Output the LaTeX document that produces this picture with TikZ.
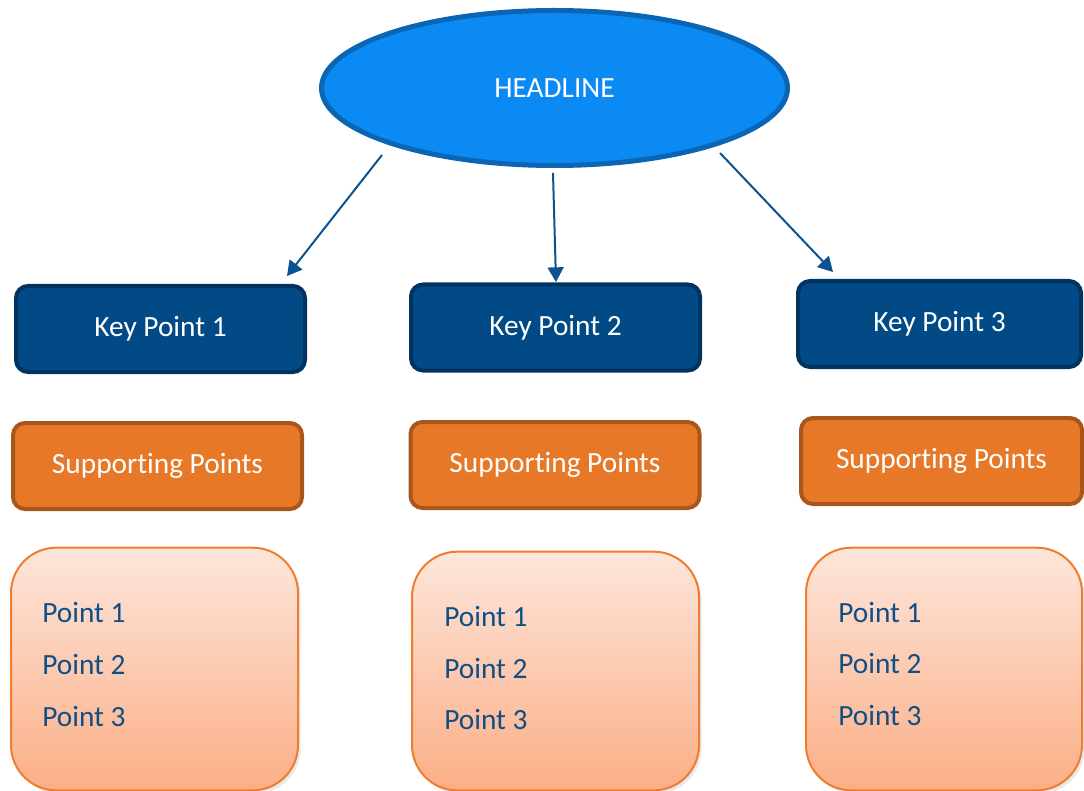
\documentclass[tikz,border=0pt]{standalone}
\usepackage{fontspec}
\setmainfont{Carlito}[Ligatures={NoCommon,NoContextual},Contextuals=NoAlternate]
\usetikzlibrary{shapes.geometric,arrows.meta,shadows}
\definecolor{headfill}{HTML}{0A8AF2}
\definecolor{headline}{HTML}{0B64B4}
\definecolor{keyfill}{HTML}{024A86}
\definecolor{keyline}{HTML}{00335F}
\definecolor{supfill}{HTML}{E77828}
\definecolor{supline}{HTML}{A9561C}
\definecolor{pttop}{HTML}{FDE6DB}
\definecolor{ptbot}{HTML}{FBAE86}
\definecolor{ptline}{HTML}{EE7D30}
\definecolor{pttext}{HTML}{0F4F86}
\definecolor{arrcol}{HTML}{0B5290}
\tikzset{
  txt/.style={font=\fontsize{22}{26}\selectfont},
  headnode/.style={ellipse, draw=headline, fill=headfill, line width=3.75pt, inner sep=0pt,
    minimum width=349.5pt, minimum height=116.25pt, text=white, txt},
  keybox/.style={draw=keyline, fill=keyfill, line width=3pt, rounded corners=9pt,
    minimum height=64.5pt, text=white, txt, inner sep=0pt},
  supbox/.style={draw=supline, fill=supfill, line width=3pt, rounded corners=9pt,
    minimum height=64.5pt, text=white, txt, inner sep=0pt},
  ptbox/.style={draw=ptline, line width=1.5pt, rounded corners=34pt, top color=pttop, bottom color=ptbot,
    drop shadow={opacity=0.18, shadow xshift=2pt, shadow yshift=-2.5pt}, inner sep=0pt},
  pttxt/.style={text=pttext, txt, anchor=base west, inner sep=0pt},
  arr/.style={draw=arrcol, line width=1.5pt, -{Triangle[length=11pt,width=12pt]}}
}
\begin{document}
\begin{tikzpicture}[x=0.75pt,y=-0.75pt]
\useasboundingbox (0,0) rectangle (1084,791);
% headline
\node[headnode] (head) at (554.5,88) {HEADLINE};
% key points
\node[keybox, minimum width=216.75pt] (kp1) at (160.5,329) {Key Point 1};
\node[keybox, minimum width=216.75pt] (kp2) at (555.5,327.5) {Key Point 2};
\node[keybox, minimum width=212.25pt] (kp3) at (939.5,324) {Key Point 3};
% supporting points
\node[supbox, minimum width=216.75pt] (sp1) at (157.5,466) {Suppor\kern0pt ting Points};
\node[supbox, minimum width=216.75pt] (sp2) at (555,465) {Suppor\kern0pt ting Points};
\node[supbox, minimum width=210.75pt] (sp3) at (941.5,461) {Suppor\kern0pt ting Points};
% point boxes
\node[ptbox, minimum width=215.25pt, minimum height=182pt] (pb1) at (154.5,669) {};
\node[ptbox, minimum width=215.25pt, minimum height=179pt] (pb2) at (555.5,671) {};
\node[ptbox, minimum width=207pt, minimum height=182pt] (pb3) at (944,669) {};
% point texts
\node[pttxt] (p11) at (42,622) {Point 1};
\node[pttxt] (p12) at (42,674) {Point 2};
\node[pttxt] (p13) at (42,726) {Point 3};
\node[pttxt] (p21) at (444,626) {Point 1};
\node[pttxt] (p22) at (444,678) {Point 2};
\node[pttxt] (p23) at (444,729) {Point 3};
\node[pttxt] (p31) at (838,622) {Point 1};
\node[pttxt] (p32) at (838,673) {Point 2};
\node[pttxt] (p33) at (838,725) {Point 3};
% arrows
\coordinate (s1) at (382,155);
\coordinate (s2) at (553,173);
\coordinate (s3) at (720,153);
\coordinate (t1) at (287,276);
\coordinate (t2) at (556,282);
\coordinate (t3) at (833,272);
\draw[arr] (s1) -- (t1);
\draw[arr] (s2) -- (t2);
\draw[arr] (s3) -- (t3);
\end{tikzpicture}
\end{document}
